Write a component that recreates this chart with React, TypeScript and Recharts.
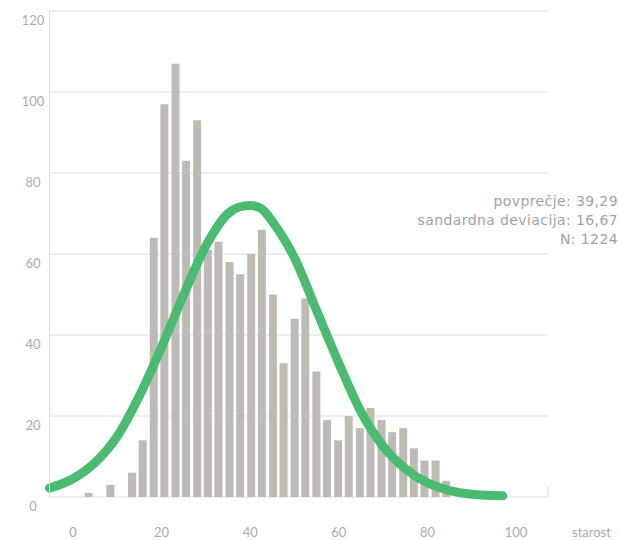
import { ComposedChart, Bar, Line, XAxis, YAxis, CartesianGrid, ReferenceLine } from 'recharts';

// histogram bins (age, centre of each bin) and counts
const binCenters = [3.6, 6.0, 8.5, 10.9, 13.4, 15.8, 18.3, 20.7, 23.2, 25.6, 28.1, 30.5, 32.9, 35.4, 37.8, 40.3, 42.7, 45.2, 47.6, 50.1, 52.5, 55.0, 57.4, 59.9, 62.3, 64.8, 67.2, 69.7, 72.1, 74.6, 77.0, 79.4, 81.9, 84.3];
const binCounts = [1, 0, 3, 0, 6, 14, 64, 97, 107, 83, 93, 61, 63, 58, 55, 60, 66, 50, 33, 44, 49, 31, 19, 14, 20, 17, 22, 19, 16, 17, 12, 9, 9, 4];

// fitted normal curve
const curveAges = [-5.3, 0, 5, 10, 15, 20, 25, 30, 35, 37.5, 40, 42.5, 45, 50, 55, 60, 65, 70, 75, 80, 85, 90, 97];
const curveValues = [2.2, 4.5, 8.5, 15, 25, 37, 50, 62, 70, 71.6, 72, 71.2, 68, 59, 46, 33, 21, 12.5, 7, 3.5, 1.6, 0.7, 0.3];

const xTicks = [0, 20, 40, 60, 80, 100];
const yTicks = [0, 20, 40, 60, 80, 100, 120];
const statLines = ['povprečje: 39,29', 'sandardna deviacija: 16,67', 'N: 1224'];
const xTitle = 'starost';

const barData = binCenters.map((age, i) => ({ age, count: binCounts[i] }));
const curveData = curveAges.map((age, i) => ({ age, fit: curveValues[i] }));

const labelFont = 'Lato, "Open Sans", sans-serif';
const ageDomain: [number, number] = [-5.3, 107.2];

function XTick({ x, payload }: any) {
  return (
    <text x={x} y={532} textAnchor="middle" dominantBaseline="central" fontFamily={labelFont} fontSize={13} fill="#ababab">
      {payload.value}
    </text>
  );
}

function YTick({ y, payload }: any) {
  return (
    <text x={33} y={y + 9} textAnchor="middle" dominantBaseline="central" fontFamily={labelFont} fontSize={13} fill="#ababab">
      {payload.value}
    </text>
  );
}

export default function App() {
  return (
    <div style={{ position: 'absolute', left: 0, top: 0, width: 619, height: 540, background: '#fff', overflow: 'hidden' }}>
      <ComposedChart width={619} height={540} data={barData} margin={{ top: 11, right: 71, bottom: 0, left: 0 }}>
        <CartesianGrid horizontal vertical={false} stroke="#dcdcdc" />
        <XAxis
          xAxisId="curve"
          dataKey="age"
          type="number"
          domain={ageDomain}
          ticks={xTicks}
          axisLine={false}
          tickLine={false}
          tickSize={0}
          tickMargin={0}
          height={43}
          tick={<XTick />}
        />
        <XAxis xAxisId="bars" dataKey="age" type="number" domain={ageDomain} hide />
        <YAxis
          type="number"
          domain={[0, 120]}
          ticks={yTicks}
          width={49.5}
          axisLine={{ stroke: '#dcdcdc' }}
          tickLine={false}
          tickSize={0}
          tickMargin={0}
          tick={<YTick />}
        />
        <ReferenceLine xAxisId="curve" segment={[{ x: 107.2, y: 0 }, { x: 107.2, y: 2.5 }]} stroke="#d6d6d6" />
        <Bar xAxisId="bars" dataKey="count" fill="#bdbbb4" barSize={8} isAnimationActive={false} />
        <Line
          xAxisId="curve"
          data={curveData}
          dataKey="fit"
          type="monotone"
          stroke="#4bbb71"
          strokeWidth={9}
          strokeLinecap="round"
          dot={false}
          activeDot={false}
          isAnimationActive={false}
        />
      </ComposedChart>
      <div style={{ position: 'absolute', right: 1, top: 192, textAlign: 'right', fontFamily: '"DejaVu Sans", sans-serif', fontSize: 14, letterSpacing: 0.4, lineHeight: '19px', color: '#a3a3a3', whiteSpace: 'nowrap' }}>
        {statLines.map((s) => (
          <div key={s}>{s}</div>
        ))}
      </div>
      <div style={{ position: 'absolute', left: 572, top: 523, fontFamily: labelFont, fontSize: 13, lineHeight: '18px', color: '#ababab', whiteSpace: 'nowrap' }}>
        {xTitle}
      </div>
    </div>
  );
}
